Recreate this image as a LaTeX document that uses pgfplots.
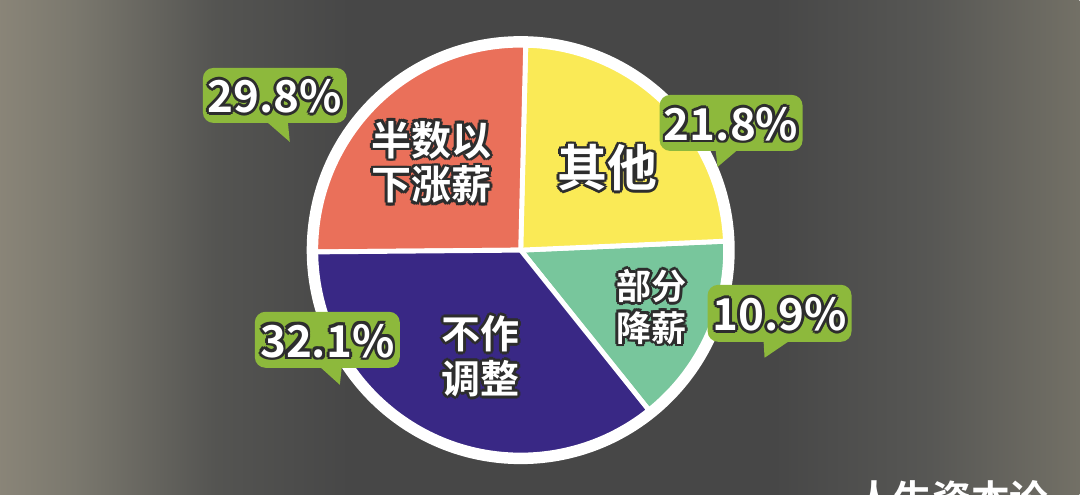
\documentclass[border=0pt]{standalone}
\usepackage{pgfplots}
\pgfplotsset{compat=1.18}
\usepackage{pgfplotstable}
\usepackage{fontspec}
\setmainfont{Noto Sans CJK SC}[BoldFont={Noto Sans CJK SC Bold}]

\definecolor{cRed}{RGB}{234,112,90}
\definecolor{cYel}{RGB}{250,234,86}
\definecolor{cGrn}{RGB}{120,198,156}
\definecolor{cBlu}{RGB}{57,40,133}
\definecolor{tag}{RGB}{141,185,60}
\definecolor{dk}{RGB}{45,45,45}

% slices counter-clockwise, starting at -51.3 deg; deg = angle as drawn
\pgfplotstableread{
label        pct   deg    clr
部分降薪      10.9  53.8   cGrn
其他          21.8  86.1   cYel
半数以下涨薪  29.8  91.9   cRed
不作调整      32.1  128.2  cBlu
}\piedata

\def\acc{-51.3}
\pgfplotsforeachungrouped \i in {0,...,3}{%
  \pgfplotstablegetelem{\i}{deg}\of\piedata
  \pgfmathsetmacro\endang{\acc+\pgfplotsretval}%
  \expandafter\xdef\csname sa\i\endcsname{\acc}%
  \expandafter\xdef\csname ea\i\endcsname{\endang}%
  \pgfplotstablegetelem{\i}{clr}\of\piedata
  \colorlet{pie\i}{\pgfplotsretval}%
  \global\let\acc\endang
}

% the path is mapped onto the middle 25bp..75bp of the shading
\pgfdeclarehorizontalshading{bgshade}{100bp}{rgb(0bp)=(0.54,0.52,0.47); rgb(25bp)=(0.54,0.52,0.47); rgb(28.5bp)=(0.48,0.47,0.43); rgb(35bp)=(0.33,0.33,0.32); rgb(41bp)=(0.28,0.28,0.28); rgb(61bp)=(0.28,0.28,0.28); rgb(68bp)=(0.34,0.34,0.33); rgb(75bp)=(0.45,0.44,0.40); rgb(100bp)=(0.45,0.44,0.40)}

% white text with a dark outline
\newcommand\outl[1]{%
  \begingroup
  \def\o##1##2{\makebox[0pt][l]{\hspace*{##1}\raisebox{##2}{\textcolor{dk}{#1}}}}%
  \o{.8pt}{0pt}\o{-.8pt}{0pt}\o{0pt}{.8pt}\o{0pt}{-.8pt}%
  \o{.6pt}{.6pt}\o{-.6pt}{.6pt}\o{.6pt}{-.6pt}\o{-.6pt}{-.6pt}%
  \textcolor{white}{#1}%
  \endgroup}

\newcommand\labfont{\bfseries\fontsize{12.5}{13}\selectfont}

% box x1 y1 x2 y2, pointer base left/right, tip x y, text (pixel coords)
\newcommand\callout[9]{%
  \fill[tag, rounded corners=3pt] (#1,#2) rectangle (#3,#4);
  \fill[tag] (#5,#4-1) -- (#7,#8) -- (#6,#4-1) -- cycle;
  \node[font=\labfont, inner sep=0pt] at ({(#1+#3)/2},{(#2+#4)/2+1}) {\outl{#9}};
}

\begin{document}
\begin{tikzpicture}
\begin{scope}[shift={(0,4.95cm)}, x=0.01cm, y=-0.01cm]
  \shade[shading=bgshade] (0,0) rectangle (1080,495);
\end{scope}

\begin{axis}[
  at={(0,0)}, anchor=origin,
  x=0.01cm, y=0.01cm,
  xmin=0, xmax=1080, ymin=0, ymax=495,
  hide axis, clip=false,
]
  \fill[white] (axis cs:521,245) circle[radius=2.14cm];
  \pgfplotsinvokeforeach{0,...,3}{
    \fill[fill=pie#1, draw=white, line width=1.4pt, line join=round]
      (axis cs:521,245) -- ++(\csname sa#1\endcsname:2.05cm)
      arc[start angle=\csname sa#1\endcsname, end angle=\csname ea#1\endcsname, radius=2.05cm]
      -- cycle;
  }
\end{axis}

\begin{scope}[shift={(0,4.95cm)}, x=0.01cm, y=-0.01cm]
  \callout{203}{68}{347}{123}{267}{288}{290}{142}{29.8\%}
  \callout{660}{95}{803}{151}{716}{738}{718}{167}{21.8\%}
  \callout{708}{285}{852}{342}{764}{790}{765}{358}{10.9\%}
  \callout{255}{312}{400}{368}{320}{342}{340}{385}{32.1\%}

  \begin{scope}[every node/.style={inner sep=0pt}]
    \node[font=\bfseries\fontsize{11.4}{12}\selectfont] at (432,140) {\outl{半数以}};
    \node[font=\bfseries\fontsize{11.4}{12}\selectfont] at (432,185) {\outl{下涨薪}};
    \node[font=\bfseries\fontsize{14.2}{15}\selectfont] at (608,168) {\outl{其他}};
    \node[font=\bfseries\fontsize{10}{11}\selectfont] at (652,286) {\outl{部分}};
    \node[font=\bfseries\fontsize{10}{11}\selectfont] at (652,328) {\outl{降薪}};
    \node[font=\bfseries\fontsize{11.1}{12}\selectfont] at (481,334) {\outl{不作}};
    \node[font=\bfseries\fontsize{11.1}{12}\selectfont] at (481,379) {\outl{调整}};
    \begin{scope}
      \clip (0,0) rectangle (1080,495);
      \node[font=\bfseries\fontsize{11}{12}\selectfont, text=white, anchor=base west] at (855,514) {人生资本论};
    \end{scope}
  \end{scope}
\end{scope}
\pgfresetboundingbox
\useasboundingbox (0,0) rectangle (10.8cm,4.95cm);
\end{tikzpicture}
\end{document}
